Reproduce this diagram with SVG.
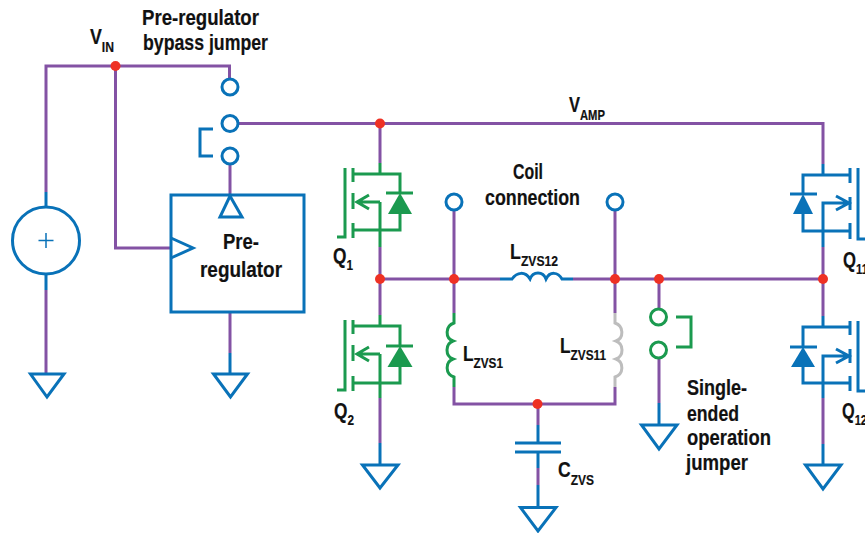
<svg xmlns="http://www.w3.org/2000/svg" width="865" height="533" viewBox="0 0 865 533">
<style>
.w{fill:none;stroke:#8352a4;stroke-width:3}
.b{fill:none;stroke:#0972b8;stroke-width:3}
.g{fill:none;stroke:#1b9a4f;stroke-width:3}
.y{fill:none;stroke:#bdbdbd;stroke-width:3}
.bf{fill:#0972b8}
.gf{fill:#1b9a4f}
.d{fill:#ee3124}
text{font-family:"Liberation Sans","Noto Sans",sans-serif;font-weight:700;font-size:22px;fill:#111;stroke:#111;stroke-width:.2}
tspan{font-size:15px}
</style>
<rect width="865" height="533" fill="#fff"/>
<g id="connectors">
<path class="w" d="M46 192V66H229.500V79"/>
<path class="w" d="M115.500 66V248H171"/>
<path class="w" d="M238 123.500H823V164"/>
<path class="w" d="M230 164V195"/>
<path class="w" d="M46 290V373"/>
<path class="w" d="M230 312V353"/>
<path class="w" d="M380 124V163M380 247V315M380 398V443"/>
<path class="w" d="M380 279H500M573 279H823"/>
<path class="w" d="M454 210V313M454 387V404H615V387M615 313V210"/>
<path class="w" d="M538 404V425M538 468V485"/>
<path class="w" d="M659 279V308M659 358V403"/>
<path class="w" d="M823 247V316M823 398V444"/>
<path class="b" d="M46 192V207M46 274V290"/>
<path class="b" d="M230 353V373"/>
<path class="b" d="M380 443V465"/>
<path class="b" d="M538 425V443M538 452V468M538 485V507"/>
<path class="b" d="M659 403V425"/>
<path class="b" d="M823 444V465"/>
<g id="junctions">
<circle class="d" cx="115.500" cy="66" r="5"/>
<circle class="d" cx="380" cy="123.500" r="5"/>
<circle class="d" cx="380" cy="279" r="5"/>
<circle class="d" cx="454" cy="279" r="5"/>
<circle class="d" cx="615" cy="279" r="5"/>
<circle class="d" cx="659" cy="279" r="5"/>
<circle class="d" cx="823" cy="279" r="5"/>
<circle class="d" cx="537.500" cy="404" r="5"/>
</g>
</g>
<g id="source">
<circle class="b" cx="46" cy="240.500" r="33.500"/>
<path class="b" style="stroke-width:1.500" d="M38.500 240.500H53.500M46 233V248"/>
<path class="b" d="M30.500 374H64L47 397Z"/>
</g>
<g id="vin-label"><text x="90" y="44" textLength="24" lengthAdjust="spacingAndGlyphs">V<tspan dy="8">IN</tspan></text></g>
<g id="bypass-jumper">
<circle class="b" cx="230" cy="87" r="8"/>
<circle class="b" cx="230" cy="123.500" r="8"/>
<circle class="b" cx="230" cy="156" r="8"/>
<path class="b" d="M213 129H200V156H213"/>
<text x="142" y="25" textLength="117" lengthAdjust="spacingAndGlyphs">Pre-regulator</text>
<text x="143" y="50" textLength="125" lengthAdjust="spacingAndGlyphs">bypass jumper</text>
</g>
<g id="vamp-label"><text x="569" y="112" textLength="36" lengthAdjust="spacingAndGlyphs">V<tspan dy="8">AMP</tspan></text></g>
<g id="pre-regulator">
<rect class="b" x="171" y="195" width="133" height="117"/>
<path class="b" d="M230 196L242 217H220Z"/>
<path class="b" d="M171 238L193 248L171 258"/>
<text x="223" y="249" textLength="36" lengthAdjust="spacingAndGlyphs">Pre-</text>
<text x="200" y="277" textLength="82" lengthAdjust="spacingAndGlyphs">regulator</text>
<path class="b" d="M213.500 374H247.500L230.500 397Z"/>
</g>
<g id="q1">
<path class="g" d="M380 163V174M353 174H400V193M400 214V230H353M380 202V247M380 202H357M369 195L357 202L369 209"/>
<path class="g" d="M353 168V182M353 193V209M353 223V238M345 168V237H337"/>
<path class="g" d="M386 193H413"/>
<path class="gf" d="M400 193L412 214H388Z"/>
<text x="333" y="263" textLength="20" lengthAdjust="spacingAndGlyphs">Q<tspan dy="7">1</tspan></text>
</g>
<g id="q2">
<path class="g" d="M380 315V326M353 326H400V346M400 367V383H353M380 354V398M380 354H357M369 347L357 354L369 361"/>
<path class="g" d="M353 320V334M353 345V361M353 376V391M345 320V390H337"/>
<path class="g" d="M386 346H413"/>
<path class="gf" d="M400 346L412.500 367H387.500Z"/>
<path class="b" d="M362.500 465H398L380 488Z"/>
<text x="334" y="418" textLength="20" lengthAdjust="spacingAndGlyphs">Q<tspan dy="7">2</tspan></text>
</g>
<g id="coil-connection">
<circle class="b" cx="454" cy="202" r="8"/>
<circle class="b" cx="615" cy="202" r="8"/>
<text x="513" y="179" textLength="30" lengthAdjust="spacingAndGlyphs">Coil</text>
<text x="485" y="205" textLength="95" lengthAdjust="spacingAndGlyphs">connection</text>
</g>
<g id="lzvs12">
<path class="b" d="M500 279H512C517 272 525 271 530 279C533 271 543 271 546 279C550 271 558 272 562 279H573"/>
<text x="510" y="259" textLength="48" lengthAdjust="spacingAndGlyphs">L<tspan dy="7">ZVS12</tspan></text>
</g>
<g id="lzvs1">
<path class="g" d="M454 313V323C445 326 445 338 453 341C445 344 445 356 453 359C445 362 445 374 454 377V387"/>
<text x="463" y="361" textLength="40" lengthAdjust="spacingAndGlyphs">L<tspan dy="7">ZVS1</tspan></text>
</g>
<g id="lzvs11">
<path class="y" d="M615 313V323C624 326 624 338 616 341C624 344 624 356 616 359C624 362 624 374 615 377V387"/>
<text x="560" y="353" textLength="46" lengthAdjust="spacingAndGlyphs">L<tspan dy="7">ZVS11</tspan></text>
</g>
<g id="czvs">
<path class="b" d="M515 443H561M515 452H561"/>
<path class="b" d="M520.500 507.500H556L538 531Z"/>
<text x="558" y="477" textLength="36" lengthAdjust="spacingAndGlyphs">C<tspan dy="8">ZVS</tspan></text>
</g>
<g id="single-ended-jumper">
<circle class="g" cx="658.500" cy="317" r="8"/>
<circle class="g" cx="658.500" cy="350" r="8"/>
<path class="g" d="M676 317H691V347H676"/>
<path class="b" d="M641.500 425H677L659 449Z"/>
<text x="687" y="395" textLength="60" lengthAdjust="spacingAndGlyphs">Single-</text>
<text x="687" y="421" textLength="52" lengthAdjust="spacingAndGlyphs">ended</text>
<text x="687" y="445" textLength="84" lengthAdjust="spacingAndGlyphs">operation</text>
<text x="686" y="470" textLength="62" lengthAdjust="spacingAndGlyphs">jumper</text>
</g>
<g id="q11">
<path class="b" d="M823 164V175M850 175H803V194M803 214V231H850M823 247V203H849M836 196L849 203L836 210"/>
<path class="b" d="M850 168V183M850 197V210M850 223V239M858 168V239H866"/>
<path class="b" d="M790 194H817"/>
<path class="bf" d="M803 194L813 214H793Z"/>
<text x="843" y="267" textLength="25" lengthAdjust="spacingAndGlyphs">Q<tspan dy="7">11</tspan></text>
</g>
<g id="q12">
<path class="b" d="M823 316V327M850 327H803V347M803 367V383H850M823 398V356H849M836 349L849 356L836 363"/>
<path class="b" d="M850 321V335M850 349V363M850 376V391M858 321V391H866"/>
<path class="b" d="M790 347H817"/>
<path class="bf" d="M803 347L815 367H791Z"/>
<path class="b" d="M805.500 465H841L823 489Z"/>
<text x="842" y="418" textLength="25" lengthAdjust="spacingAndGlyphs">Q<tspan dy="7">12</tspan></text>
</g>
</svg>
